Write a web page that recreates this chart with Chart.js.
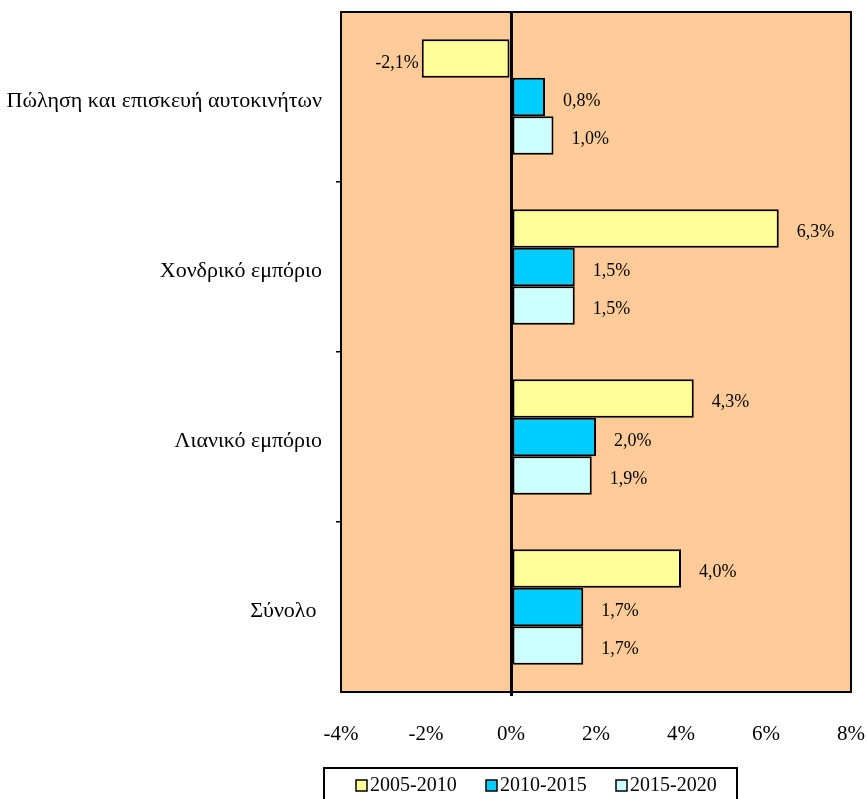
<!DOCTYPE html>
<html>
<head>
<meta charset="utf-8">
<script src="https://cdn.jsdelivr.net/npm/chart.js@4"></script>
<style>
  html, body { margin: 0; padding: 0; background: #fff; }
  #wrap { width: 867px; height: 799px; }
</style>
</head>
<body>
<div id="wrap"><canvas id="myChart" width="867" height="799"></canvas></div>
<script>
const categories = ['Πώληση και επισκευή αυτοκινήτων', 'Χονδρικό εμπόριο', 'Λιανικό εμπόριο', 'Σύνολο '];
const seriesNames = ['2005-2010', '2010-2015', '2015-2020'];
const s2005 = [-2.1, 6.3, 4.3, 4.0];
const s2010 = [0.8, 1.5, 2.0, 1.7];
const s2015 = [1.0, 1.5, 1.9, 1.7];
const xTicks = [-4, -2, 0, 2, 4, 6, 8];

const colors = ['#FFFF99', '#00CCFF', '#CCFFFF'];
const FONT = "'Liberation Serif', 'Times New Roman', serif";

// plot background + frame
const frame = {
    id: 'frame',
    beforeDraw(chart) {
        const a = chart.chartArea;
        const ctx = chart.ctx;
        ctx.save();
        ctx.fillStyle = '#FFCC99';
        ctx.fillRect(a.left, a.top, a.right - a.left, a.bottom - a.top);
        ctx.restore();
    },
    afterDraw(chart) {
        const a = chart.chartArea;
        const ctx = chart.ctx;
        ctx.save();
        ctx.strokeStyle = '#000';
        ctx.lineWidth = 2;
        ctx.strokeRect(a.left, a.top, a.right - a.left, a.bottom - a.top);
        ctx.restore();
    }
};

// value labels next to bar ends
const valueLabels = {
    id: 'valueLabels',
    afterDatasetsDraw(chart) {
        const ctx = chart.ctx;
        ctx.save();
        ctx.font = '18px ' + FONT;
        ctx.fillStyle = '#000';
        ctx.textBaseline = 'middle';
        chart.data.datasets.forEach((ds, i) => {
            chart.getDatasetMeta(i).data.forEach((bar, j) => {
                const v = ds.data[j];
                const txt = v.toFixed(1).replace('.', ',') + '%';
                if (v >= 0) {
                    ctx.textAlign = 'left';
                    ctx.fillText(txt, bar.x + 18, bar.y + 4);
                } else {
                    ctx.textAlign = 'right';
                    ctx.fillText(txt, bar.x - 3, bar.y + 5);
                }
            });
        });
        ctx.restore();
    }
};

// boxed legend under the axis
const boxLegend = {
    id: 'boxLegend',
    afterDraw(chart) {
        const ctx = chart.ctx;
        ctx.save();
        ctx.strokeStyle = '#000';
        ctx.lineWidth = 2;
        ctx.strokeRect(324, 768, 413, 40);
        ctx.font = '20px ' + FONT;
        ctx.textBaseline = 'middle';
        ctx.textAlign = 'left';
        const xs = [356, 486, 616];
        chart.data.datasets.forEach((ds, i) => {
            ctx.fillStyle = ds.backgroundColor;
            ctx.fillRect(xs[i], 780, 11, 11);
            ctx.lineWidth = 1.5;
            ctx.strokeRect(xs[i], 780, 11, 11);
            ctx.fillStyle = '#000';
            ctx.fillText(ds.label, xs[i] + 14, 786);
        });
        ctx.restore();
    }
};

const myChart = document.getElementById('myChart').getContext('2d');
new Chart(myChart, {
    type: 'bar',
    data: {
        labels: categories,
        datasets: [
            { label: seriesNames[0], data: s2005, backgroundColor: colors[0] },
            { label: seriesNames[1], data: s2010, backgroundColor: colors[1] },
            { label: seriesNames[2], data: s2015, backgroundColor: colors[2] }
        ]
    },
    options: {
        indexAxis: 'y',
        responsive: false,
        animation: false,
        layout: { padding: { top: 12, right: 16, left: 0, bottom: 0 } },
        datasets: {
            bar: {
                borderColor: '#000',
                borderWidth: 2,
                borderSkipped: false,
                categoryPercentage: 0.68,
                barPercentage: 1.0
            }
        },
        scales: {
            x: {
                min: -4,
                max: 8,
                afterBuildTicks: (scale) => { scale.ticks = xTicks.map(v => ({ value: v })); },
                afterFit: (scale) => {
                    scale.height = 107;
                    scale.paddingLeft = 0;
                    scale.paddingRight = 0;
                },
                border: { display: false },
                grid: {
                    color: (c) => (c.tick && c.tick.value === 0 ? '#000' : 'rgba(0,0,0,0)'),
                    lineWidth: 3,
                    tickLength: 4
                },
                ticks: {
                    color: '#000',
                    padding: 26,
                    maxRotation: 0,
                    font: { family: FONT, size: 21 },
                    callback: (v) => v + '%'
                }
            },
            y: {
                afterFit: (scale) => {
                    scale.width = 341;
                    scale.paddingTop = 0;
                    scale.paddingBottom = 0;
                },
                border: { display: false },
                grid: {
                    offset: true,
                    drawOnChartArea: false,
                    tickLength: 5,
                    lineWidth: 1.5,
                    color: (c) => (c.index > 0 && c.index < categories.length ? '#000' : 'rgba(0,0,0,0)')
                },
                ticks: {
                    color: '#000',
                    padding: 14,
                    labelOffset: 4,
                    font: { family: FONT, size: 22 }
                }
            }
        },
        plugins: {
            legend: { display: false },
            tooltip: { enabled: false }
        }
    },
    plugins: [frame, valueLabels, boxLegend]
});
</script>
</body>
</html>
